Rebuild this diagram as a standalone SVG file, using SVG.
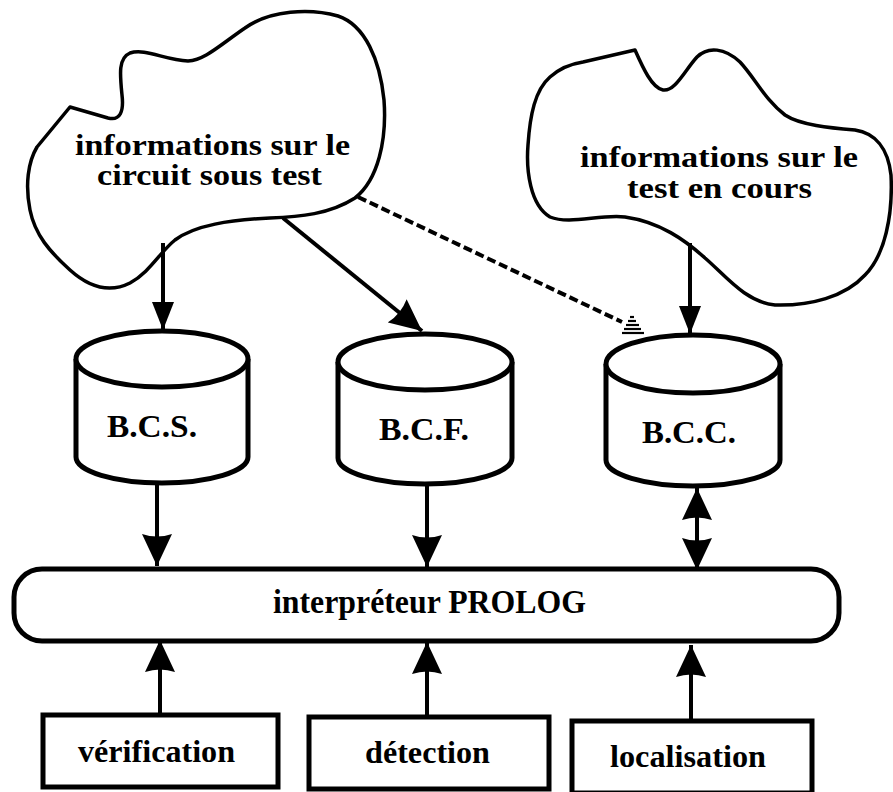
<svg xmlns="http://www.w3.org/2000/svg" width="893" height="792" viewBox="0 0 893 792">
<style>
  .cloud{fill:#fff;stroke:#000;stroke-width:3.5;stroke-linejoin:round}
  .shape{fill:#fff;stroke:#000;stroke-width:5}
  .edge{fill:none;stroke:#000;stroke-width:4}
  .dash{fill:none;stroke:#000;stroke-width:4;stroke-dasharray:9 4}
  .hatch{stroke:#000;stroke-width:2.2}
  .t{font-family:"Liberation Serif","Times New Roman",serif;font-weight:bold;fill:#000}
</style>
<defs>
  <marker id="ah" viewBox="0 0 32 30" refX="32" refY="15" markerWidth="32" markerHeight="30" markerUnits="userSpaceOnUse" orient="auto-start-reverse">
    <path d="M0,0 L32,15 L0,30 Q5,15 0,0 Z" fill="#000"/>
  </marker>
  <marker id="ahs" viewBox="0 0 28 22" refX="28" refY="11" markerWidth="28" markerHeight="22" markerUnits="userSpaceOnUse" orient="auto">
    <path d="M0,0 L28,11 L0,22 Z" fill="#000"/>
  </marker>
</defs>

<g id="cloud-circuit">
  <path class="cloud" d="M70,107 L108,118 C120,121 124,112 122,95 C120,75 118,58 130,53 C145,48 165,60 188,61 C205,60 220,45 245,28 C270,10 310,8 338,16 C365,25 380,60 384,100 C387,140 378,180 355,198 C330,214 300,217 270,218 C230,220 195,225 175,240 C160,252 150,272 130,283 C110,293 90,288 70,270 C50,252 35,235 30,210 C25,185 28,162 37,147 Z"/>
  <text class="t" x="75" y="155" font-size="29" textLength="275" lengthAdjust="spacingAndGlyphs">informations sur le</text>
  <text class="t" x="97" y="185" font-size="29" textLength="225" lengthAdjust="spacingAndGlyphs">circuit sous test</text>
</g>

<g id="cloud-test">
  <path class="cloud" d="M635,50 C643,68 652,88 663,90 C675,92 685,70 697,57 C708,46 725,48 740,62 C755,78 765,100 785,115 C800,125 830,128 855,130 C875,133 888,148 891,175 C893,215 885,255 865,275 C845,297 810,306 775,305 C745,302 725,275 705,258 C685,240 660,222 625,217 C600,214 570,225 550,217 C530,205 526,170 528,145 C530,115 535,90 550,77 C560,68 570,64 583,62 Z"/>
  <text class="t" x="580" y="167" font-size="29" textLength="278" lengthAdjust="spacingAndGlyphs">informations sur le</text>
  <text class="t" x="627" y="198" font-size="29" textLength="185" lengthAdjust="spacingAndGlyphs">test en cours</text>
</g>

<g id="bcs">
  <path class="shape" d="M76,359 V457 A86,26 0 0 0 248,457 V359"/>
  <ellipse class="shape" cx="162" cy="359" rx="86" ry="28"/>
  <text class="t" x="107" y="437" font-size="31" textLength="90" lengthAdjust="spacingAndGlyphs">B.C.S.</text>
</g>

<g id="bcf">
  <path class="shape" d="M338,362 V458 A87,26 0 0 0 512,458 V362"/>
  <ellipse class="shape" cx="425" cy="362" rx="87" ry="28"/>
  <text class="t" x="379" y="440" font-size="31" textLength="90" lengthAdjust="spacingAndGlyphs">B.C.F.</text>
</g>

<g id="bcc">
  <path class="shape" d="M606,364 V460 A87,26 0 0 0 780,460 V364"/>
  <ellipse class="shape" cx="693" cy="364" rx="87" ry="29"/>
  <text class="t" x="642" y="443" font-size="31" textLength="94" lengthAdjust="spacingAndGlyphs">B.C.C.</text>
</g>

<g id="prolog">
  <rect class="shape" x="14" y="569" width="825" height="72" rx="28"/>
  <text class="t" x="273" y="613" font-size="33" textLength="313" lengthAdjust="spacingAndGlyphs">interpréteur PROLOG</text>
</g>

<g id="verification">
  <rect class="shape" x="43" y="715" width="235" height="72"/>
  <text class="t" x="78" y="762" font-size="32" textLength="157" lengthAdjust="spacingAndGlyphs">vérification</text>
</g>

<g id="detection">
  <rect class="shape" x="309" y="717" width="240" height="72"/>
  <text class="t" x="365" y="763" font-size="32" textLength="125" lengthAdjust="spacingAndGlyphs">détection</text>
</g>

<g id="localisation">
  <rect class="shape" x="572" y="721" width="240" height="72"/>
  <text class="t" x="610" y="767" font-size="32" textLength="156" lengthAdjust="spacingAndGlyphs">localisation</text>
</g>

<g id="connectors">
  <path class="edge" d="M163,243 L163,330" marker-end="url(#ahs)"/>
  <path class="edge" d="M283,218 L422,331" marker-end="url(#ah)"/>
  <path class="dash" d="M358,197 L622,322"/>
  <g class="hatch">
    <line x1="630" y1="317" x2="634" y2="317"/>
    <line x1="628" y1="321" x2="636" y2="321"/>
    <line x1="626" y1="325" x2="639" y2="325"/>
    <line x1="624" y1="329" x2="641" y2="329"/>
    <line x1="622" y1="333" x2="644" y2="333"/>
  </g>
  <path class="edge" d="M690,243 L690,334" marker-end="url(#ahs)"/>
  <path class="edge" d="M157,483 L157,566" marker-end="url(#ah)"/>
  <path class="edge" d="M427,484 L427,567" marker-end="url(#ah)"/>
  <path class="edge" d="M697,488 L697,570" marker-start="url(#ah)" marker-end="url(#ah)"/>
  <path class="edge" d="M160,713 L160,640" marker-end="url(#ah)"/>
  <path class="edge" d="M427,717 L427,642" marker-end="url(#ah)"/>
  <path class="edge" d="M691,721 L691,645" marker-end="url(#ah)"/>
</g>
</svg>
